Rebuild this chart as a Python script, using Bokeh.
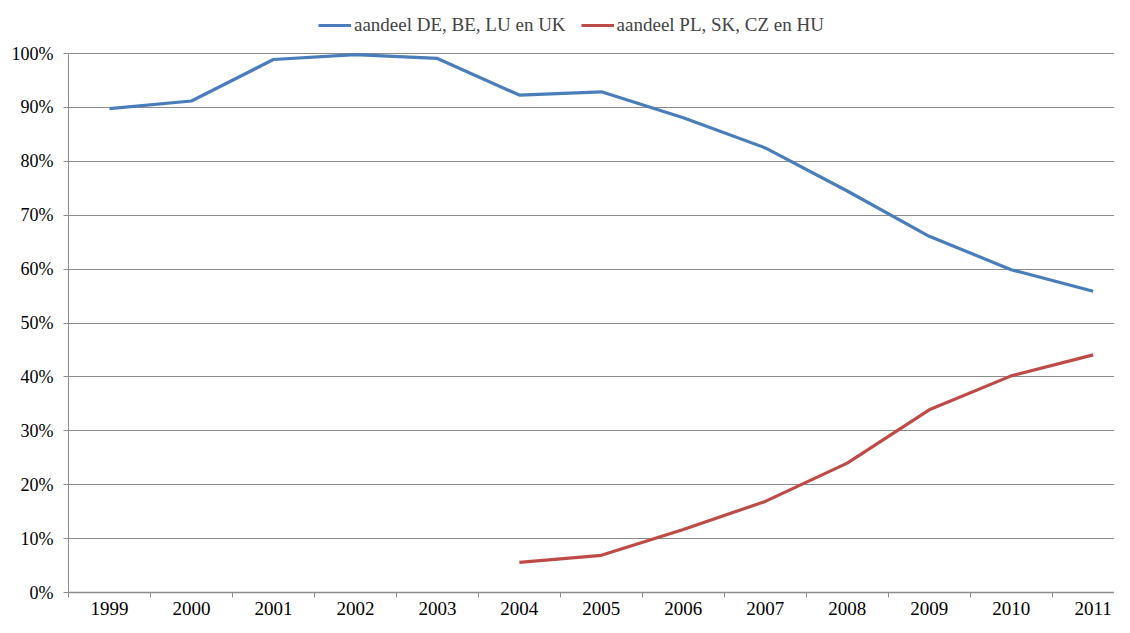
from bokeh.plotting import figure
from bokeh.models import FixedTicker, Legend, LegendItem, Range1d
from bokeh.embed import file_html
from bokeh.resources import INLINE

years = ["1999", "2000", "2001", "2002", "2003", "2004", "2005",
         "2006", "2007", "2008", "2009", "2010", "2011"]
share_west = [89.8, 91.2, 98.9, 99.8, 99.1, 92.3, 92.9, 88.1, 82.5, 74.5, 66.1, 59.9, 55.9]
west_label = "aandeel DE, BE, LU en UK"
years_east = ["2004", "2005", "2006", "2007", "2008", "2009", "2010", "2011"]
share_east = [5.6, 6.9, 11.7, 16.9, 24.0, 33.9, 40.2, 44.1]
east_label = "aandeel PL, SK, CZ en HU"
y_ticks = [0, 10, 20, 30, 40, 50, 60, 70, 80, 90, 100]

FONT = "Liberation Serif"
BLUE = "#4A7EBB"
RED = "#BE4B48"
GRID = "#8C8C8C"

xw = [years.index(y) for y in years]
xe = [years.index(y) for y in years_east]

# extra headroom above 100% hosts the legend (axis line is bounded to 0-100);
# the last category band is cut at the right edge, as in the original
p = figure(width=1114, height=617, output_backend="svg", toolbar_location=None,
           x_range=Range1d(-0.5, 12.26), y_range=Range1d(0, 109.85),
           min_border_left=68, min_border_right=0, min_border_top=0, min_border_bottom=0)
p.outline_line_color = None
p.background_fill_color = "white"
p.border_fill_color = "white"

r1 = p.line(xw, share_west, line_color=BLUE, line_width=3.2)
r2 = p.line(xe, share_east, line_color=RED, line_width=3.2)

# x axis
p.xaxis.ticker = FixedTicker(ticks=list(range(len(years))),
                             minor_ticks=[i - 0.5 for i in range(len(years) + 1)])
p.xaxis.major_label_overrides = {i: y for i, y in enumerate(years)}
p.xaxis.major_tick_out = 0
p.xaxis.major_tick_in = 0
p.xaxis.minor_tick_out = 5
p.xaxis.minor_tick_in = 0
p.xaxis.minor_tick_line_color = GRID
p.xaxis.axis_line_color = GRID
p.xaxis.axis_line_width = 1.5
p.xaxis.major_label_text_font = FONT
p.xaxis.major_label_text_font_size = "19px"
p.xaxis.major_label_text_color = "black"
p.xaxis.major_label_standoff = 4
p.xgrid.grid_line_color = None

# y axis
p.yaxis.ticker = FixedTicker(ticks=y_ticks)
p.yaxis.bounds = (0, 100)
p.yaxis.major_label_overrides = {t: f"{t}%" for t in y_ticks}
p.yaxis.major_tick_out = 5
p.yaxis.major_tick_in = 0
p.yaxis.major_tick_line_color = GRID
p.yaxis.minor_tick_line_color = None
p.yaxis.axis_line_color = GRID
p.yaxis.major_label_text_font = FONT
p.yaxis.major_label_text_font_size = "18px"
p.yaxis.major_label_text_color = "black"
p.yaxis.major_label_standoff = 10
p.ygrid.ticker = FixedTicker(ticks=y_ticks)
p.ygrid.grid_line_color = GRID
p.ygrid.grid_line_width = 1

legend = Legend(items=[LegendItem(label=west_label, renderers=[r1]),
                       LegendItem(label=east_label, renderers=[r2])],
                orientation="horizontal", location=(250, 556),
                label_text_font=FONT, label_text_font_size="19px",
                glyph_width=33, glyph_height=14, spacing=15, padding=4, margin=0,
                border_line_color=None, background_fill_alpha=0,
                label_standoff=3)
p.add_layout(legend, "center")

open("out.html", "w").write(file_html(p, INLINE))
